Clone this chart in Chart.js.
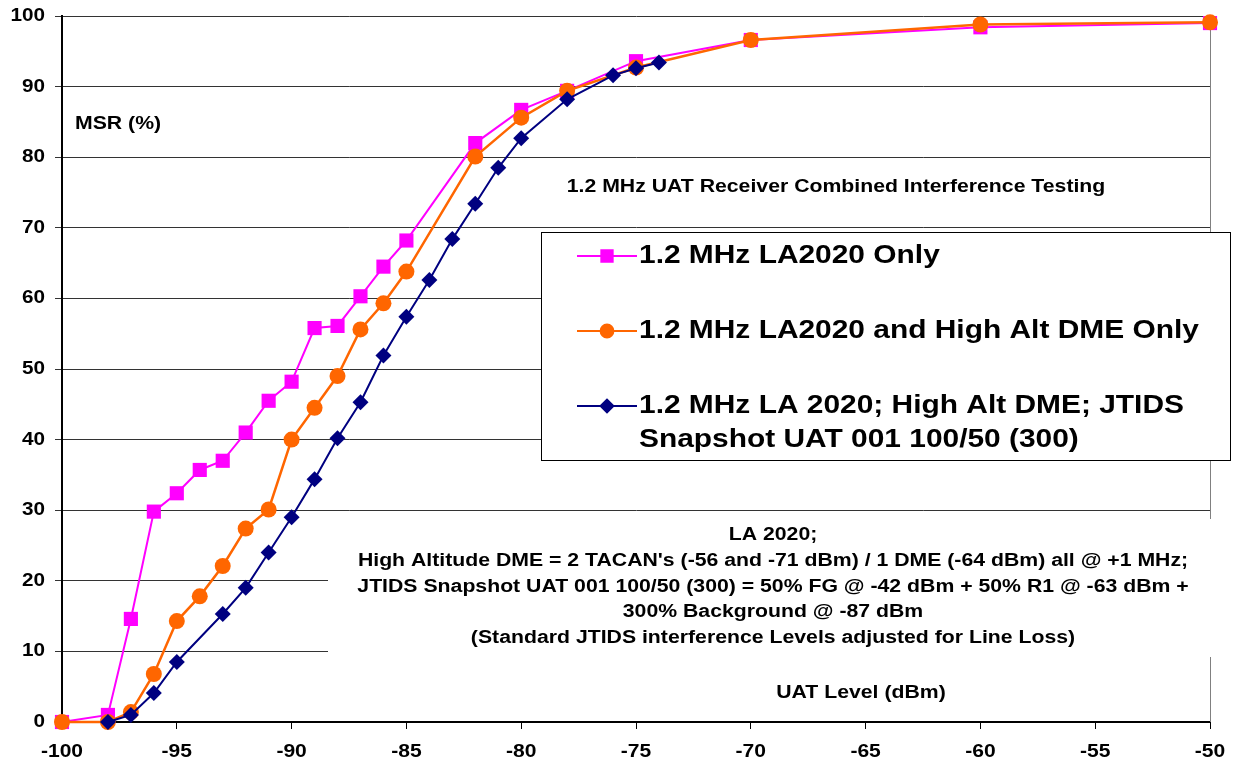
<!DOCTYPE html>
<html>
<head>
<meta charset="utf-8">
<script src="https://cdn.jsdelivr.net/npm/chart.js@4/dist/chart.umd.min.js"></script>
<style>
  html, body { margin: 0; padding: 0; background: #fff; }
  #wrap { width: 1233px; height: 767px; position: relative; }
</style>
</head>
<body>
<div id="wrap"><canvas id="msrChart"></canvas></div>
<script>
/* ── Data (UAT level in dBm, MSR in %) ── */
const xLA2020 = [-100, -98, -97, -96, -95, -94, -93, -92, -91, -90, -89, -88, -87, -86, -85, -82, -80, -78, -75, -70, -60, -50];
const yLA2020 = [0, 1.0, 14.6, 29.8, 32.4, 35.7, 37.0, 41.0, 45.5, 48.2, 55.8, 56.1, 60.3, 64.5, 68.2, 82.0, 86.7, 89.4, 93.6, 96.6, 98.4, 99.0];

const xDME = [-100, -98, -97, -96, -95, -94, -93, -92, -91, -90, -89, -88, -87, -86, -85, -82, -80, -78, -75, -70, -60, -50];
const yDME = [0, 0, 1.4, 6.8, 14.3, 17.8, 22.1, 27.4, 30.1, 40.0, 44.5, 49.0, 55.6, 59.3, 63.8, 80.1, 85.6, 89.4, 92.7, 96.6, 98.8, 99.1];

const xJTIDS = [-98, -97, -96, -95, -93, -92, -91, -90, -89, -88, -87, -86, -85, -84, -83, -82, -81, -80, -78, -76, -75, -74];
const yJTIDS = [0, 1.0, 4.1, 8.5, 15.3, 19.0, 24.0, 29.0, 34.4, 40.2, 45.3, 51.9, 57.4, 62.6, 68.4, 73.4, 78.5, 82.7, 88.2, 91.6, 92.6, 93.4];

const xTicks = [-100, -95, -90, -85, -80, -75, -70, -65, -60, -55, -50];
const yTicks = [0, 10, 20, 30, 40, 50, 60, 70, 80, 90, 100];

const seriesLabels = [
  ['1.2 MHz LA2020 Only'],
  ['1.2 MHz LA2020 and High Alt DME Only'],
  ['1.2 MHz LA 2020; High Alt DME; JTIDS', 'Snapshot UAT 001 100/50 (300)']
];
const titleText = '1.2 MHz UAT Receiver Combined Interference Testing';
const yAxisText = 'MSR (%)';
const xAxisText = 'UAT Level (dBm)';
const noteLines = [
  'LA 2020;',
  "High Altitude DME = 2 TACAN's (-56 and -71 dBm) / 1 DME (-64 dBm) all @ +1 MHz;",
  'JTIDS Snapshot UAT 001 100/50 (300) = 50% FG @ -42 dBm + 50% R1 @ -63 dBm +',
  '300% Background @ -87 dBm',
  '(Standard JTIDS interference Levels adjusted for Line Loss)'
];

/* ── Helpers ── */
const FONT = "'Liberation Sans', Arial, sans-serif";
const PINK = '#FF00FF', ORANGE = '#FF6600', NAVY = '#000080';
const STRETCH = 1.18;   // the source picture is a little wider than tall

function toPoints(xs, ys) {
  return xs.map((x, i) => ({ x, y: ys[i] }));
}

function wideText(ctx, text, x, y, align, sx) {
  ctx.save();
  ctx.translate(x, y);
  ctx.scale(sx, 1);
  ctx.textAlign = align;
  ctx.fillText(text, 0, 0);
  ctx.restore();
}

/* ── Annotation / legend plugin ── */
const annotations = {
  id: 'annotations',
  beforeDatasetsDraw(chart) {
    const { ctx, chartArea } = chart;
    ctx.save();
    // right frame line
    ctx.strokeStyle = '#808080';
    ctx.lineWidth = 1;
    ctx.beginPath();
    ctx.moveTo(chartArea.right + 0.5, chartArea.top);
    ctx.lineTo(chartArea.right + 0.5, chartArea.bottom);
    ctx.stroke();
    // white boxes behind the text blocks hide the grid
    ctx.fillStyle = '#fff';
    ctx.fillRect(328, 519, 890, 138);
    ctx.fillRect(541, 232, 689, 228);
    ctx.restore();
  },
  afterDraw(chart) {
    const { ctx } = chart;
    const xs = chart.scales.x, ys = chart.scales.y;
    ctx.save();
    ctx.fillStyle = '#000';
    ctx.textBaseline = 'middle';

    // tick labels
    ctx.font = `bold 18px ${FONT}`;
    xTicks.forEach(v => wideText(ctx, String(v), xs.getPixelForValue(v), 752, 'center', 1.17));
    yTicks.forEach(v => wideText(ctx, String(v), 45, ys.getPixelForValue(v), 'right', 1.15));

    ctx.font = `bold 18px ${FONT}`;
    wideText(ctx, yAxisText, 75, 124, 'left', STRETCH);
    wideText(ctx, titleText, 836, 187, 'center', STRETCH);
    wideText(ctx, xAxisText, 861, 693, 'center', STRETCH);

    const noteY = [535, 561, 587, 612, 638];
    noteLines.forEach((t, i) => wideText(ctx, t, 773, noteY[i], 'center', STRETCH));

    // legend box
    ctx.strokeStyle = '#000';
    ctx.lineWidth = 1;
    ctx.strokeRect(541.5, 232.5, 689, 228);

    const styles = chart.data.datasets;
    const itemY = [256, 331, 406];
    ctx.font = `bold 26px ${FONT}`;
    styles.forEach((ds, i) => {
      const y = itemY[i];
      ctx.strokeStyle = ds.borderColor;
      ctx.lineWidth = 2;
      ctx.beginPath();
      ctx.moveTo(577, y);
      ctx.lineTo(637, y);
      ctx.stroke();
      ctx.fillStyle = ds.pointBackgroundColor;
      ctx.strokeStyle = ds.pointBorderColor;
      Chart.helpers.drawPoint(ctx, {
        pointStyle: ds.pointStyle, radius: ds.pointRadius * 0.8, rotation: 0, borderWidth: 1
      }, 607, y);
      ctx.fillStyle = '#000';
      seriesLabels[i].forEach((line, j) => wideText(ctx, line, 639, y + j * 34, 'left', 1.15));
    });
    ctx.restore();
  }
};

/* ── Chart ── */
new Chart(document.getElementById('msrChart'), {
  type: 'scatter',
  data: {
    datasets: [
      {
        label: seriesLabels[0].join(' '),
        data: toPoints(xLA2020, yLA2020),
        showLine: true,
        borderColor: PINK,
        borderWidth: 2,
        pointStyle: 'rect',
        pointRadius: 10,
        pointBackgroundColor: PINK,
        pointBorderColor: PINK,
        pointBorderWidth: 0,
        order: 3,
        clip: 12
      },
      {
        label: seriesLabels[1].join(' '),
        data: toPoints(xDME, yDME),
        showLine: true,
        borderColor: ORANGE,
        borderWidth: 2.5,
        pointStyle: 'circle',
        pointRadius: 8,
        pointBackgroundColor: ORANGE,
        pointBorderColor: ORANGE,
        pointBorderWidth: 0,
        order: 2,
        clip: 12
      },
      {
        label: seriesLabels[2].join(' '),
        data: toPoints(xJTIDS, yJTIDS),
        showLine: true,
        borderColor: NAVY,
        borderWidth: 2,
        pointStyle: 'rectRot',
        pointRadius: 8,
        pointBackgroundColor: NAVY,
        pointBorderColor: NAVY,
        pointBorderWidth: 0,
        order: 1,
        clip: 12
      }
    ]
  },
  options: {
    responsive: true,
    maintainAspectRatio: false,
    animation: false,
    layout: { padding: { top: 16, right: 23, bottom: 0, left: 0 } },
    plugins: {
      legend: { display: false },
      tooltip: { enabled: false }
    },
    scales: {
      x: {
        type: 'linear',
        min: xTicks[0],
        max: xTicks[xTicks.length - 1],
        afterBuildTicks: axis => { axis.ticks = xTicks.map(v => ({ value: v })); },
        afterFit: axis => { axis.height = 45; },
        ticks: { display: false },
        grid: { drawOnChartArea: false, drawTicks: true, tickLength: 7, color: '#000', lineWidth: 1 },
        border: { color: '#000', width: 2 }
      },
      y: {
        type: 'linear',
        min: yTicks[0],
        max: yTicks[yTicks.length - 1],
        afterBuildTicks: axis => { axis.ticks = yTicks.map(v => ({ value: v })); },
        afterFit: axis => { axis.width = 62; },
        ticks: { display: false },
        grid: { color: '#333', lineWidth: 1, drawTicks: true, tickLength: 7 },
        border: { color: '#000', width: 2 }
      }
    }
  },
  plugins: [annotations]
});
</script>
</body>
</html>
